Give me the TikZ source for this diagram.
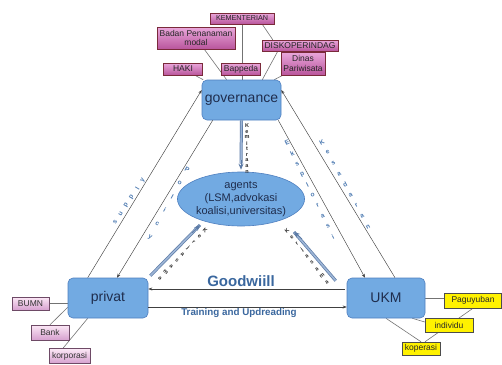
\documentclass[tikz,border=0pt]{standalone}
\usepackage{fontspec}
\setmainfont{Liberation Sans}
\usetikzlibrary{shapes.geometric,arrows.meta,calc,backgrounds,shadings}
\definecolor{boxblue}{HTML}{72AAE2}
\definecolor{boxedge}{HTML}{4F7FBF}
\definecolor{navy}{HTML}{1F2D4D}
\definecolor{magtop}{HTML}{EAA8DC}
\definecolor{magbot}{HTML}{B9559C}
\definecolor{magedge}{HTML}{7A2A3A}
\definecolor{pinktop}{HTML}{FCE8F6}
\definecolor{pinkbot}{HTML}{D6A0CF}
\definecolor{pinkedge}{HTML}{6E4A66}
\definecolor{labblue}{HTML}{4A78B0}
\definecolor{gwblue}{HTML}{3A679E}
\definecolor{thickfill}{HTML}{9DB5D6}
\definecolor{thickedge}{HTML}{5C7BA6}
\newcommand\spelled[6]{%
  \foreach \ch [count=\k from 0] in {#6}{\node[#1] (#2\k) at ($(#3)!\k/#5!(#4)$) {\ch};}}
\tikzset{
  bluebox/.style={draw=boxedge, fill=boxblue, rounded corners=5pt, line width=0.6pt, text=navy,
    font=\fontsize{14}{15}\selectfont, inner sep=0pt},
  agentell/.style={ellipse, draw=boxedge, fill=boxblue, line width=0.6pt, text=navy,
    font=\fontsize{11}{13.3}\selectfont, align=center, inner sep=0pt,
    minimum width=120pt, minimum height=54pt},
  magbox/.style={draw=magedge, top color=magtop, bottom color=magbot, line width=0.5pt,
    font=\fontsize{8.5}{9.5}\selectfont, align=center, inner sep=0pt, text=black!85},
  pinkbox/.style={draw=pinkedge, top color=pinktop, bottom color=pinkbot, line width=0.5pt,
    font=\fontsize{8.5}{9.5}\selectfont, inner sep=0pt, text=black!80},
  yelbox/.style={draw=black!70, fill=yellow, line width=0.5pt,
    font=\fontsize{8.5}{9.5}\selectfont, inner sep=0pt, text=black!85},
  link/.style={draw=black!55, line width=0.6pt},
  flow/.style={draw=black!75, line width=0.45pt},
  tip/.style={-{Stealth[length=4pt,width=3pt]}},
  fat/.style={draw=thickfill, line width=1.6pt, preaction={draw=thickedge, line width=3pt}},
  fattip/.style={draw=thickedge, line width=0.8pt, -{Stealth[length=6pt,width=5pt]}},
  bluelet/.style={text=labblue, font=\fontsize{6.5}{6.5}\selectfont\bfseries, inner sep=0pt},
  darklet/.style={text=black!85, font=\fontsize{5.5}{5.5}\selectfont\bfseries, inner sep=0pt},
}
\begin{document}
\begin{tikzpicture}[x=1pt,y=-1pt]
\useasboundingbox (0,0) rectangle (502,364);
% main nodes
\node[bluebox, minimum width=79pt, minimum height=40pt] (gov) at (241.5,100) {governance};
\node[bluebox, minimum width=80pt, minimum height=40pt] (priv) at (108,298) {privat};
\node[bluebox, minimum width=78pt, minimum height=40pt] (ukm) at (386,298) {UKM};
\node[agentell] (ag) at (241,199) {agents\\(LSM,advokasi\\koalisi,universitas)};
% top boxes
\node[magbox, minimum width=64pt, minimum height=11pt, font=\fontsize{7.2}{8}\selectfont] (kem) at (242,18.5) {KEMENTERIAN};
\node[magbox, minimum width=78pt, minimum height=22pt] (badan) at (196,38) {Badan Penanaman\\modal};
\node[magbox, minimum width=76pt, minimum height=11pt] (disko) at (300,45.5) {DISKOPERINDAG};
\node[magbox, minimum width=44pt, minimum height=23pt] (dinas) at (303,63.5) {Dinas\\Pariwisata};
\node[magbox, minimum width=39pt, minimum height=12pt] (haki) at (183,69) {HAKI};
\node[magbox, minimum width=39pt, minimum height=12pt] (bap) at (241,69) {Bappeda};
% bottom-left boxes
\node[pinkbox, minimum width=37pt, minimum height=13pt] (bumn) at (30.5,303.5) {BUMN};
\node[pinkbox, minimum width=38pt, minimum height=15pt] (bank) at (50,332.5) {Bank};
\node[pinkbox, minimum width=41pt, minimum height=15pt] (korp) at (69.5,356) {korporasi};
% right boxes
\node[yelbox, minimum width=57pt, minimum height=15pt] (pag) at (473,300.5) {Paguyuban};
\node[yelbox, minimum width=48pt, minimum height=14pt] (ind) at (449,325) {individu};
\node[yelbox, minimum width=38pt, minimum height=13pt] (kop) at (421,348.5) {koperasi};
% attachment lines
\begin{scope}[on background layer]
\draw[link] (haki) -- (gov);
\draw[link] (badan) -- (gov);
\draw[link] (kem) -- (kem |- gov.north);
\draw[link] ($(kem.south east)+(-12,0)$) -- ($(disko.north west)+(11,0)$);
\draw[link] ($(disko.south west)+(16,0)$) -- ($(gov.north east)+(-19,0)$);
\draw[link] ($(dinas.south west)+(2,0)$) -- ($(gov.north east)+(-7,0)$);
\draw[link] (bumn.east) -- (bumn.east -| priv.west);
\draw[link] (bank.north) -- ($(priv.south west)+(0,-11)$);
\draw[link] ($(korp.north)+(-6.5,0)$) -- ($(priv.south west)+(20,0)$);
\draw[link] (ukm.east) -- (ukm.east -| pag.west);
\draw[link] ($(ukm.south east)+(-13,0)$) -- ($(ind.west)+(0,-3)$);
\draw[link] (ukm.south) -- (kop.north);
\draw[link] (pag.south) -- ($(kop.north)+(4,0)$);
\end{scope}
% outer triangle lines
\draw[flow, tip] ($(priv.north west)+(20,0)$) -- ($(gov.west)+(0,-10)$);
\draw[flow, tip] ($(gov.south west)+(11,0)$) -- ($(priv.north)+(9,0)$);
\draw[flow, tip] ($(ukm.north)+(9,0)$) -- ($(gov.east)+(0,-10)$);
\draw[flow, tip] ($(gov.south east)+(-3,0)$) -- ($(ukm.north)+(-21,0)$);
\draw[flow, tip] ($(ukm.west)+(-2,-9)$) -- ($(priv.east)+(0,-9)$);
\draw[flow, tip] ($(priv.east)+(0,9)$) -- ($(ukm.west)+(0,9)$);
% thick arrows to agents
\coordinate (agL) at (200,225);
\coordinate (agR) at (294,232);
\draw[fat] (gov.south) -- ($(ag.north)+(0,-8)$);
\draw[fattip] ($(ag.north)+(0,-12)$) -- ($(ag.north)+(0,-2)$);
\draw[fat] ($(priv.north east)+(2,-2)$) -- (agL);
\draw[fattip] ($(agL)!0.15!(priv.north east)$) -- (agL);
\draw[fat] ($(ukm.north west)+(-11,3)$) -- (agR);
\draw[fattip] ($(agR)!0.15!(ukm.north west)$) -- (agR);
% labels
\node[text=gwblue, font=\fontsize{15}{16}\selectfont\bfseries] (gw) at (241,281) {Goodwiill};
\node[text=gwblue, font=\fontsize{9.8}{11}\selectfont\bfseries] (tr) at (239,313) {Training and Updreading};
\coordinate (s1) at (115,222); \coordinate (e1) at (143,180);
\spelled{bluelet, rotate=59}{la}{s1}{e1}{5}{s,u,p,p,l,y}
\coordinate (s2) at (187,170); \coordinate (e2) at (150,237);
\spelled{bluelet, rotate=-29}{lb}{s2}{e2}{5}{P,o,l,i,c,y}
\coordinate (s3) at (287,143); \coordinate (e3) at (333,237);
\spelled{bluelet, rotate=26}{lc}{s3}{e3}{9}{E,k,s,p,l,o,r,a,s,i}
\coordinate (s4) at (322,142); \coordinate (e4) at (368,227);
\spelled{bluelet, rotate=28}{ld}{s4}{e4}{8}{K,e,s,a,d,a,r,a,n}
\coordinate (s5) at (247,126); \coordinate (e5) at (247,172);
\spelled{darklet}{le}{s5}{e5}{8}{K,e,m,i,t,r,a,a,n}
\coordinate (s6) at (205,230); \coordinate (e6) at (160,278);
\spelled{darklet, rotate=-43}{lf}{s6}{e6}{8}{K,e,r,j,a,s,a,m,a}
\coordinate (s7) at (287,231); \coordinate (e7) at (327,282);
\spelled{darklet, rotate=39}{lg}{s7}{e7}{8}{K,e,r,j,a,s,a,m,a}
\end{tikzpicture}
\end{document}
